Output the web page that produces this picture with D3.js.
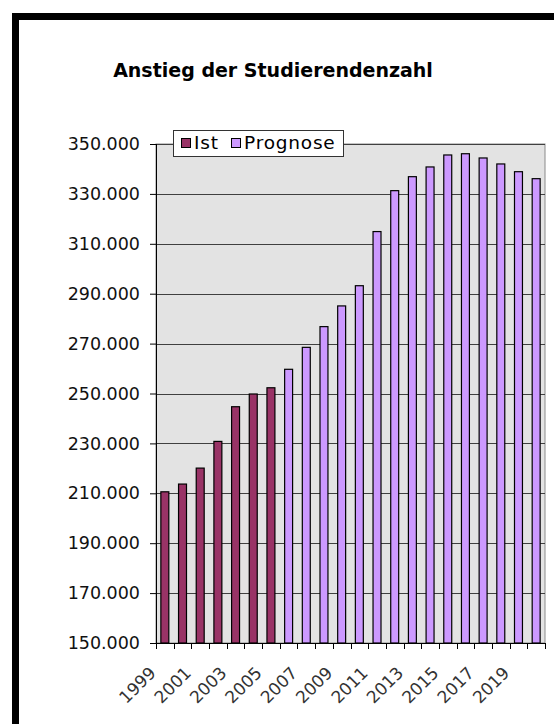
<!DOCTYPE html>
<html><head><meta charset="utf-8">
<script src="https://cdn.jsdelivr.net/npm/d3@7"></script>
<style>html,body{margin:0;padding:0;background:#fff}svg{display:block}</style>
</head><body>
<svg id="c" width="554" height="724"></svg>
<script>
const years = ["1999","2000","2001","2002","2003","2004","2005","2006","2007","2008","2009","2010","2011","2012","2013","2014","2015","2016","2017","2018","2019","2020"];
const istValues = [210600,213700,220100,230800,244700,249800,252300,null,null,null,null,null,null,null,null,null,null,null,null,null,null,null];
const prognoseValues = [null,null,null,null,null,null,null,259700,268500,276800,285100,293200,314900,331300,336900,340800,345600,346100,344400,342000,338900,336100];
const yTicks = [150000,170000,190000,210000,230000,250000,270000,290000,310000,330000,350000];
const xLabels = ["1999","2001","2003","2005","2007","2009","2011","2013","2015","2017","2019"];
const seriesNames = ["Ist","Prognose"];
const seriesColors = ["#993366","#CC99FF"];

const svg = d3.select("#c");
svg.append("rect").attr("width",554).attr("height",724).attr("fill","#fff");
// frame
svg.append("rect").attr("x",12).attr("y",13).attr("width",542).attr("height",7).attr("fill","#000");
svg.append("rect").attr("x",12).attr("y",13).attr("width",7).attr("height",711).attr("fill","#000");

const L=156,R=545,T=144,B=643;
const x = d3.scaleBand().domain(years).range([L,R]).paddingInner(0.55).paddingOuter(0.275);
const y = d3.scaleLinear().domain([150000,350000]).range([B,T]);
const loc = d3.formatLocale({decimal:",",thousands:".",grouping:[3],currency:["","€"]});
const fmt = loc.format(",");

svg.append("text").attr("x",273).attr("y",77).attr("text-anchor","middle")
  .attr("font-family","DejaVu Sans").attr("font-weight","bold").attr("font-size",19)
  .text("Anstieg der Studierendenzahl");

svg.append("rect").attr("x",L).attr("y",T).attr("width",R-L).attr("height",B-T).attr("fill","#e3e3e3").attr("stroke","#8a8a8a");

const gy = svg.append("g").attr("transform",`translate(${L},0)`)
  .call(d3.axisLeft(y).tickValues(yTicks).tickFormat(fmt).tickSize(6).tickPadding(10));
gy.select(".domain").remove();
gy.selectAll(".tick line").attr("stroke","#000");
gy.selectAll(".tick text").attr("font-family","DejaVu Sans").attr("font-size",17.5).attr("fill","#111");
// gridlines
svg.append("g").selectAll("line").data(yTicks.slice(1)).join("line")
  .attr("x1",L).attr("x2",R).attr("y1",d=>Math.round(y(d))+0.5).attr("y2",d=>Math.round(y(d))+0.5)
  .attr("stroke","#404040");
svg.append("line").attr("x1",L+0.5).attr("x2",L+0.5).attr("y1",T).attr("y2",B+6).attr("stroke","#000");
svg.append("line").attr("x1",L).attr("x2",R+1).attr("y1",B+0.5).attr("y2",B+0.5).attr("stroke","#000");

// bars
const rows = years.map((yr,i)=>({yr,ist:istValues[i],prog:prognoseValues[i]}));
svg.append("g").selectAll("rect").data(rows.filter(d=>d.ist!=null)).join("rect")
  .attr("x",d=>x(d.yr)).attr("width",x.bandwidth()).attr("y",d=>y(d.ist)).attr("height",d=>B-y(d.ist))
  .attr("fill",seriesColors[0]).attr("stroke","#000").attr("stroke-width",1.2);
svg.append("g").selectAll("rect").data(rows.filter(d=>d.prog!=null)).join("rect")
  .attr("x",d=>x(d.yr)).attr("width",x.bandwidth()).attr("y",d=>y(d.prog)).attr("height",d=>B-y(d.prog))
  .attr("fill",seriesColors[1]).attr("stroke","#000").attr("stroke-width",1.2);

// x ticks at category boundaries
const bounds = years.map(d=>x(d)-x.step()*x.paddingInner()/2).concat([R]);
svg.append("g").selectAll("line").data(bounds).join("line")
  .attr("x1",d=>Math.round(d)+0.5).attr("x2",d=>Math.round(d)+0.5).attr("y1",B).attr("y2",B+6).attr("stroke","#000");
svg.append("g").selectAll("text").data(xLabels).join("text")
  .attr("transform",d=>`translate(${x(d)+x.bandwidth()/2-8},674) rotate(-45)`)
  .attr("text-anchor","end").attr("font-family","DejaVu Sans").attr("font-size",17).attr("fill","#333")
  .text(d=>d);

// legend
const lg = svg.append("g");
lg.append("rect").attr("x",173.5).attr("y",130.5).attr("width",170).attr("height",26).attr("fill","#fff").attr("stroke","#333");
const lx=[181,231];
seriesNames.forEach((n,i)=>{
  lg.append("rect").attr("x",lx[i]+0.5).attr("y",138.5).attr("width",9).attr("height",9).attr("fill",seriesColors[i]).attr("stroke","#000");
  lg.append("text").attr("x",lx[i]+13).attr("y",149).attr("font-family","DejaVu Sans").attr("font-size",18.5).attr("letter-spacing",0.8).text(n);
});
</script>
</body></html>
